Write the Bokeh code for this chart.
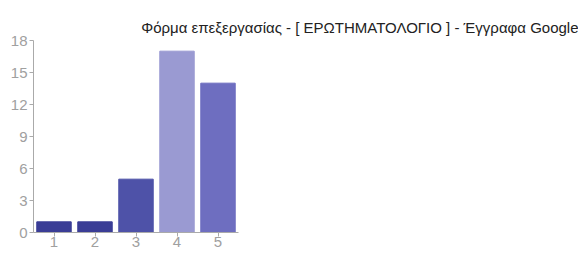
from bokeh.plotting import figure
from bokeh.models import FactorRange, Range1d, FixedTicker, ColumnDataSource
from bokeh.embed import file_html
from bokeh.resources import INLINE

categories = ["1", "2", "3", "4", "5"]
counts = [1, 1, 5, 17, 14]
colors = ["#3a3d96", "#3a3d96", "#4e52a8", "#9a9ad2", "#6e6ec0"]
y_ticks = [0, 3, 6, 9, 12, 15, 18]
title_text = "Φόρμα επεξεργασίας - [ ΕΡΩΤΗΜΑΤΟΛΟΓΙΟ ] - Έγγραφα Google"

src = ColumnDataSource(dict(cat=categories, val=counts, col=colors))

p = figure(width=578, height=252, output_backend="svg", toolbar_location=None,
           x_range=FactorRange(*categories, range_padding=0),
           y_range=Range1d(0, 18),
           min_border_left=33, min_border_right=340, min_border_top=40, min_border_bottom=20)

p.vbar(x="cat", top="val", width=0.84, color="col", source=src)

p.title.text = title_text
p.title.align = "right"
p.title.offset = -340
p.title.text_font = "Liberation Sans"
p.title.text_font_size = "15px"
p.title.text_font_style = "normal"
p.title.text_color = "#222222"

p.outline_line_color = None
p.xgrid.grid_line_color = None
p.ygrid.grid_line_color = None
p.background_fill_color = "white"
p.border_fill_color = "white"

for ax in (p.xaxis[0], p.yaxis[0]):
    ax.axis_line_color = "#aaaaaa"
    ax.major_tick_line_color = "#aaaaaa"
    ax.minor_tick_line_color = None
    ax.major_tick_in = 0
    ax.major_tick_out = 4
    ax.major_label_text_font = "Liberation Sans"
    ax.major_label_text_font_size = "15px"
    ax.major_label_text_color = "#a0a0a0"
    ax.major_label_standoff = 2

p.yaxis[0].ticker = FixedTicker(ticks=y_ticks)
p.xaxis[0].major_label_standoff = 0

open("out.html", "w").write(file_html(p, INLINE))
